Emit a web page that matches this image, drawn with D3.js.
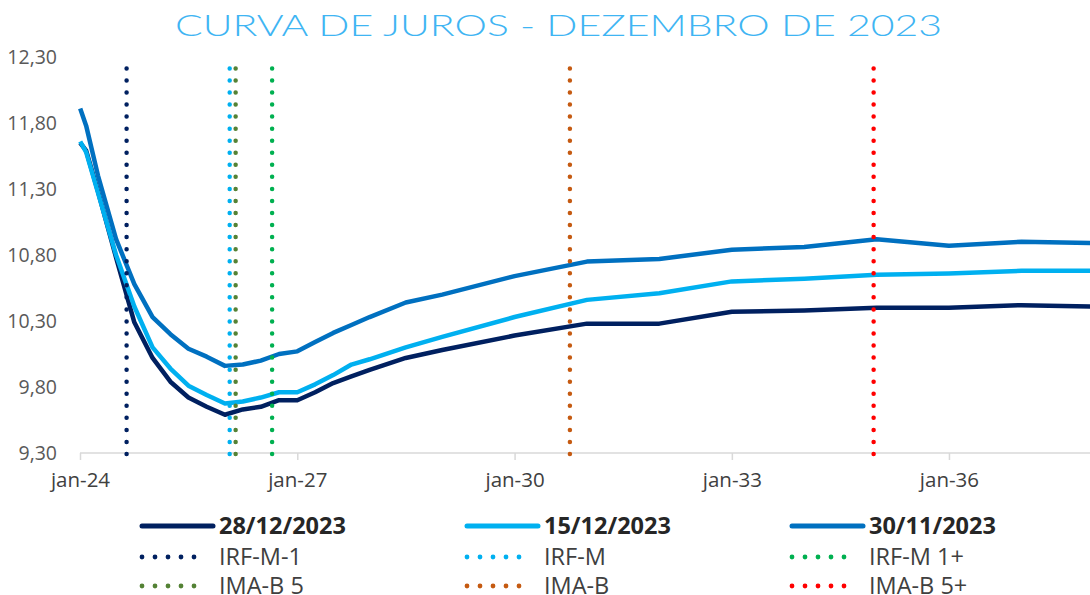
<!DOCTYPE html>
<html>
<head>
<meta charset="utf-8">
<script src="https://cdn.jsdelivr.net/npm/d3@7"></script>
<style>
  html, body { margin: 0; padding: 0; background: #fff; }
  svg { display: block; }
</style>
</head>
<body>
<svg id="chart" width="1090" height="595"></svg>
<script>
// ---------- DATA ----------
const title = "CURVA DE JUROS - DEZEMBRO DE 2023";

const dates = [
  "2024-01-02","2024-02-01","2024-04-01","2024-07-01","2024-10-01",
  "2025-01-01","2025-04-01","2025-07-01","2025-10-01",
  "2026-01-01","2026-04-01","2026-07-01","2026-10-01",
  "2027-01-01","2027-04-01","2027-07-01","2027-10-01",
  "2028-01-01","2028-07-01","2029-01-01","2030-01-01","2031-01-01",
  "2032-01-01","2033-01-01","2034-01-01","2035-01-01","2036-01-01",
  "2037-01-01","2038-01-01"
];

const seriesNames = ["28/12/2023", "15/12/2023", "30/11/2023"];

const values28Dez = [11.65,11.59,11.28,10.78,10.29,10.02,9.84,9.72,9.65,9.59,9.63,9.65,9.70,9.70,9.76,9.83,9.88,9.93,10.02,10.08,10.19,10.28,10.28,10.37,10.38,10.40,10.40,10.42,10.41];
const values15Dez = [11.66,11.58,11.27,10.80,10.41,10.10,9.94,9.81,9.74,9.675,9.69,9.72,9.76,9.76,9.82,9.89,9.97,10.01,10.10,10.18,10.33,10.46,10.51,10.60,10.62,10.65,10.66,10.68,10.68];
const values30Nov = [11.91,11.78,11.40,10.92,10.58,10.33,10.20,10.09,10.03,9.96,9.97,10.00,10.05,10.07,10.14,10.21,10.27,10.33,10.44,10.50,10.64,10.75,10.77,10.84,10.86,10.92,10.87,10.90,10.89];

const benchNames = ["IRF-M-1", "IRF-M", "IRF-M 1+", "IMA-B 5", "IMA-B", "IMA-B 5+"];
const benchDates = ["2024-08-23", "2026-01-25", "2026-08-27", "2026-02-24", "2030-10-07", "2034-12-17"];

const yTicks = [9.30, 9.80, 10.30, 10.80, 11.30, 11.80, 12.30];
const xTickDates = ["2024-01-01", "2027-01-01", "2030-01-01", "2033-01-01", "2036-01-01"];

// ---------- STYLE ----------
const seriesColors = ["#002060", "#00B0F0", "#0070C0"];
const benchColors = ["#002060", "#00B0F0", "#00B050", "#548235", "#C55A11", "#FF0000"];

const parse = d3.timeParse("%Y-%m-%d");
const ptTime = d3.timeFormatLocale({
  dateTime: "%d/%m/%Y %H:%M:%S", date: "%d/%m/%Y", time: "%H:%M:%S",
  periods: ["AM", "PM"],
  days: ["domingo","segunda","terça","quarta","quinta","sexta","sábado"],
  shortDays: ["dom","seg","ter","qua","qui","sex","sáb"],
  months: ["janeiro","fevereiro","março","abril","maio","junho","julho","agosto","setembro","outubro","novembro","dezembro"],
  shortMonths: ["jan","fev","mar","abr","mai","jun","jul","ago","set","out","nov","dez"]
});
const ptNum = d3.formatLocale({ decimal: ",", thousands: ".", grouping: [3], currency: ["R$", ""] });
const fmtY = ptNum.format(".2f");
const fmtX = ptTime.format("%b-%y");

const svg = d3.select("#chart");

const plotLeft = 80, plotTop = 57, plotBottom = 453;
const x = d3.scaleTime()
  .domain([parse("2024-01-01"), parse("2038-01-01")])
  .range([plotLeft, plotLeft + 14 * 72.42]);
const y = d3.scaleLinear().domain([9.30, 12.30]).range([plotBottom, plotTop]);

// Title
svg.append("text")
  .attr("x", 175).attr("y", 36)
  .attr("textLength", 767).attr("lengthAdjust", "spacingAndGlyphs")
  .style("font-family", "Lato, 'Open Sans', sans-serif")
  .style("font-weight", 300)
  .style("font-size", "29px")
  .style("fill", "#3FB5F3")
  .text(title);

// X axis
const xAxis = d3.axisBottom(x)
  .tickValues(xTickDates.map(parse))
  .tickFormat(fmtX)
  .tickSizeInner(7).tickSizeOuter(0).tickPadding(12);
const gx = svg.append("g").attr("transform", `translate(0,${plotBottom})`).call(xAxis);
gx.select(".domain").attr("stroke", "#D9D9D9").attr("stroke-width", 1.5)
  .attr("d", `M${plotLeft},0H1090`);
gx.selectAll(".tick line").attr("stroke", "#D9D9D9").attr("stroke-width", 1.5);
gx.selectAll(".tick text")
  .style("font-family", "'Open Sans', sans-serif").style("font-size", "20.5px").style("fill", "#404040");

// Y axis (labels only)
const yAxis = d3.axisLeft(y).tickValues(yTicks).tickFormat(fmtY).tickSize(0).tickPadding(0);
const gy = svg.append("g").attr("transform", `translate(57,0)`).call(yAxis);
gy.select(".domain").remove();
gy.selectAll(".tick text")
  .style("font-family", "'Open Sans', sans-serif").style("font-size", "19.5px").style("fill", "#595959");

// Curves
const allSeries = [values28Dez, values15Dez, values30Nov];
const line = d3.line().x((d, i) => x(parse(dates[i]))).y(d => y(d));
svg.append("g").selectAll("path").data(allSeries).join("path")
  .attr("d", line)
  .attr("fill", "none")
  .attr("stroke", (d, i) => seriesColors[i])
  .attr("stroke-width", 4.5)
  .attr("stroke-linejoin", "round");

// Benchmark vertical dotted lines
svg.append("g").selectAll("line").data(benchDates).join("line")
  .attr("x1", d => x(parse(d))).attr("x2", d => x(parse(d)))
  .attr("y1", y(9.30) + 1).attr("y2", y(12.30) + 2)
  .attr("stroke", (d, i) => benchColors[i])
  .attr("stroke-width", 4.5)
  .attr("stroke-linecap", "round")
  .attr("stroke-dasharray", "0 12.05");

// Legend
const colX = [142, 467, 792];
const rowY = [526, 557, 586];
const legendItems = [];
seriesNames.forEach((n, i) => legendItems.push({ name: n, color: seriesColors[i], solid: true, col: i, row: 0 }));
benchNames.forEach((n, i) => legendItems.push({ name: n, color: benchColors[i], solid: false, col: i % 3, row: 1 + Math.floor(i / 3) }));

const lg = svg.append("g").selectAll("g").data(legendItems).join("g")
  .attr("transform", d => `translate(${colX[d.col]},${rowY[d.row]})`);
lg.append("line")
  .attr("x1", 0).attr("x2", d => d.solid ? 71 : 65)
  .attr("stroke", d => d.color)
  .attr("stroke-width", d => d.solid ? 5 : 4.8)
  .attr("stroke-linecap", "round")
  .attr("stroke-dasharray", d => d.solid ? null : "0 13");
lg.append("text")
  .attr("x", 77).attr("dy", "0.36em")
  .style("font-family", "'Open Sans', sans-serif")
  .style("font-size", "23.5px")
  .style("font-weight", d => d.solid ? 700 : 400)
  .style("fill", d => d.solid ? "#262626" : "#404040")
  .text(d => d.name);
</script>
</body>
</html>
